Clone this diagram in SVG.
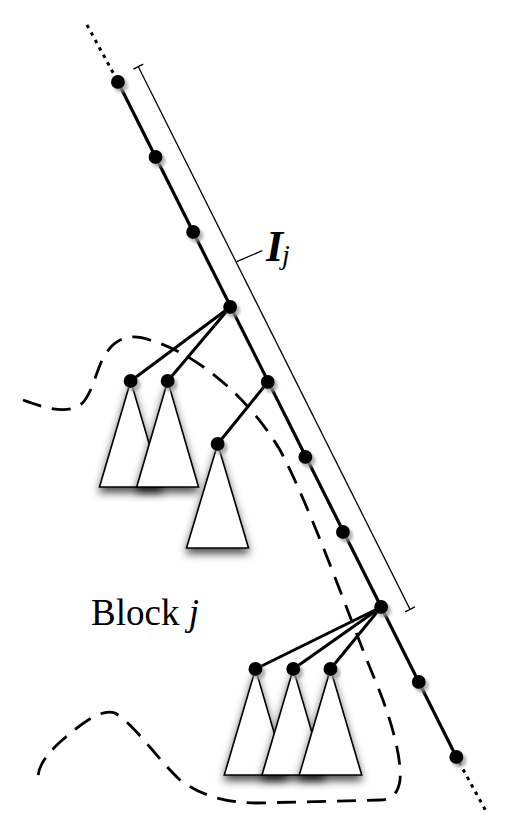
<svg xmlns="http://www.w3.org/2000/svg" width="511" height="836" viewBox="0 0 511 836">
<style>
.spine{stroke:#000;stroke-width:3.2;fill:none}
.dot{stroke:#000;stroke-width:3;fill:none;stroke-dasharray:3.5 5}
.edge{stroke:#000;stroke-width:3;fill:none}
.tri{fill:#fff;stroke:#000;stroke-width:1.6;filter:url(#tshadow)}
.node{fill:#000;filter:url(#nshadow)}
.bound{stroke:#000;stroke-width:2.8;fill:none;stroke-dasharray:19 11}
.thin{stroke:#000;stroke-width:1.3;fill:none}
.lbl{font-family:"Liberation Serif","Times New Roman",serif;fill:#000}
</style>
<defs>
<filter id="nshadow" x="-60%" y="-60%" width="220%" height="220%">
<feDropShadow dx="3" dy="3.5" stdDeviation="1.6" flood-color="#999" flood-opacity="0.75"/>
</filter>
<filter id="tshadow" x="-30%" y="-20%" width="160%" height="150%">
<feDropShadow dx="0" dy="5" stdDeviation="4" flood-color="#000" flood-opacity="0.7"/>
</filter>
</defs>
<rect width="511" height="836" fill="#fff"/>
<path id="block-boundary" class="bound" d="M 23,400 C 45,408 60,412 75,408 C 92,402 95,370 105,355 C 115,338 130,333 150,340 C 200,355 250,400 280,450 C 312,510 350,620 375,680 C 392,720 402,760 400,780 C 398,795 390,800 380,800 L 257,803 C 225,803 200,795 180,780 C 160,762 135,725 115,713 C 100,708 80,725 60,742 C 45,756 35,770 39,783"/>
<g id="interval">
<line class="thin" x1="138.3" y1="66.7" x2="410" y2="609.3"/>
<line class="thin" x1="133.4" y1="69.2" x2="143.2" y2="64.2"/>
<line class="thin" x1="405.1" y1="611.8" x2="414.9" y2="606.8"/>
<line class="thin" x1="236.7" y1="261.7" x2="262.3" y2="250.7"/>
<text class="lbl" x="266" y="261" font-size="44" font-style="italic" font-weight="bold">I</text>
<text class="lbl" x="282" y="264" font-size="28" font-style="italic">j</text>
</g>
<g id="connectors">
<line class="dot" x1="87" y1="25" x2="116" y2="78"/>
<line class="spine" x1="118" y1="82" x2="456.4" y2="757"/>
<line class="dot" x1="459" y1="762" x2="487" y2="813"/>
<line class="edge" x1="230.2" y1="307" x2="130.7" y2="381"/>
<line class="edge" x1="230.2" y1="307" x2="167.7" y2="381"/>
<line class="edge" x1="267.8" y1="382" x2="217.7" y2="444"/>
<line class="edge" x1="381.2" y1="607" x2="255.5" y2="669"/>
<line class="edge" x1="381.2" y1="607" x2="293.3" y2="669"/>
<line class="edge" x1="381.2" y1="607" x2="330.5" y2="669"/>
</g>
<g id="tree-a"><polygon class="tri" points="130.7,381 99.5,487 161.9,487"/></g>
<g id="tree-b"><polygon class="tri" points="167.7,381 136.7,487 198.5,487"/></g>
<g id="tree-c"><polygon class="tri" points="217.7,444 186.5,548 248.5,548"/></g>
<g id="tree-d"><polygon class="tri" points="255.5,669 224.3,775 286.5,775"/></g>
<g id="tree-e"><polygon class="tri" points="293.3,669 262,775 324.4,775"/></g>
<g id="tree-f"><polygon class="tri" points="330.5,669 299.3,775 361.7,775"/></g>
<g id="n0"><circle class="node" cx="118" cy="82" r="7"/></g>
<g id="n1"><circle class="node" cx="155.6" cy="157" r="7"/></g>
<g id="n2"><circle class="node" cx="193.2" cy="232" r="7"/></g>
<g id="n3"><circle class="node" cx="230.2" cy="307" r="7"/></g>
<g id="n4"><circle class="node" cx="267.8" cy="382" r="7"/></g>
<g id="n5"><circle class="node" cx="305.4" cy="457" r="7"/></g>
<g id="n6"><circle class="node" cx="343" cy="532" r="7"/></g>
<g id="n7"><circle class="node" cx="381.2" cy="607" r="7"/></g>
<g id="n8"><circle class="node" cx="418.8" cy="682" r="7"/></g>
<g id="n9"><circle class="node" cx="456.4" cy="757" r="7"/></g>
<g id="c1"><circle class="node" cx="130.7" cy="381" r="7"/></g>
<g id="c2"><circle class="node" cx="167.7" cy="381" r="7"/></g>
<g id="c3"><circle class="node" cx="217.7" cy="444" r="7"/></g>
<g id="c4"><circle class="node" cx="255.5" cy="669" r="7"/></g>
<g id="c5"><circle class="node" cx="293.3" cy="669" r="7"/></g>
<g id="c6"><circle class="node" cx="330.5" cy="669" r="7"/></g>
<g id="block-label"><text class="lbl" x="91" y="625" font-size="37">Block <tspan font-style="italic">j</tspan></text></g>
</svg>
